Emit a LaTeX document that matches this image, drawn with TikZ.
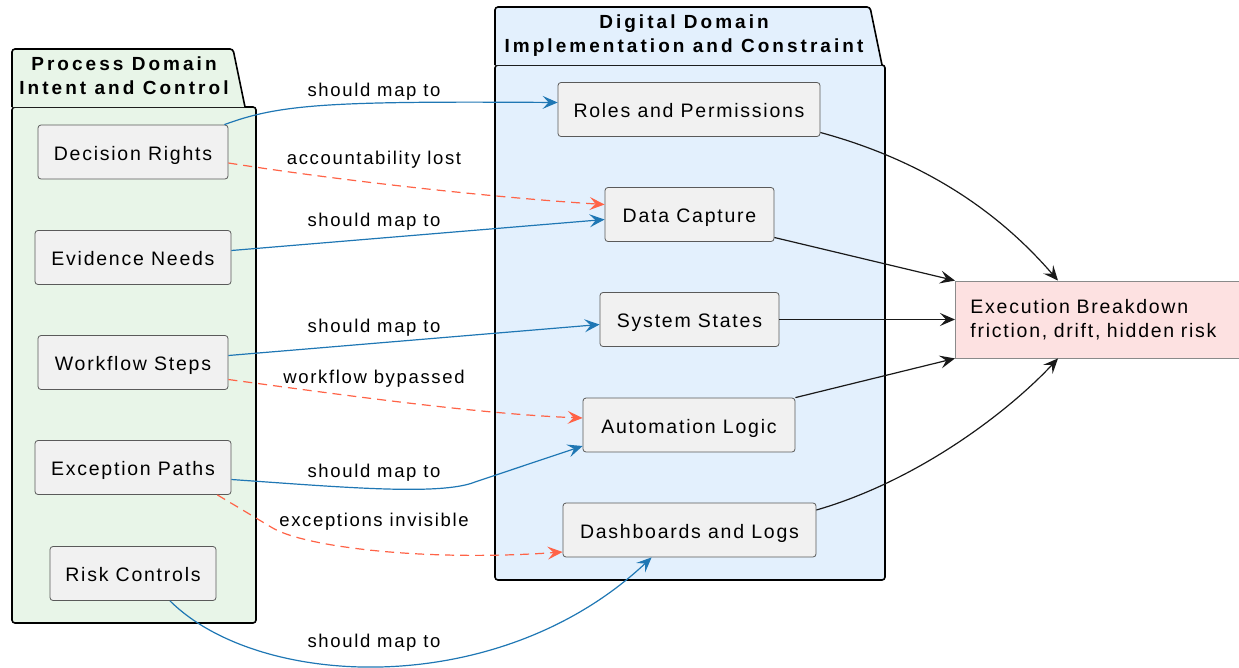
\documentclass[tikz,border=0pt]{standalone}
\usepackage{fontspec}
\setmainfont{Liberation Sans}
\newfontfamily\nodefam{Liberation Sans}[LetterSpace=9]
\newfontfamily\titlefam{Liberation Sans}[LetterSpace=16]
\usetikzlibrary{arrows.meta,calc}
\definecolor{greenfill}{HTML}{E8F5E8}
\definecolor{bluefill}{HTML}{E3F0FD}
\definecolor{boxfill}{HTML}{F1F1F1}
\definecolor{boxline}{HTML}{5A5A5A}
\definecolor{exfill}{HTML}{FDE1E1}
\definecolor{exline}{HTML}{8A8A8A}
\definecolor{mapblue}{HTML}{1F77B4}
\definecolor{lossred}{HTML}{FF6347}
\tikzset{
  frame/.style={draw=black, line width=1.6pt, rounded corners=3pt},
  titletext/.style={font=\titlefam\bfseries\fontsize{19}{24}\selectfont, align=center, inner sep=0pt},
  box/.style={draw=boxline, fill=boxfill, rounded corners=3pt, line width=0.8pt,
    font=\nodefam\fontsize{19.5}{23.5}\selectfont, inner sep=0pt, minimum height=54pt,
    text height=16pt, text depth=0pt},
  lbl/.style={font=\nodefam\fontsize{18.5}{22}\selectfont, inner sep=0pt, anchor=base},
  tip/.style={-{Stealth[length=15pt,width=13pt,inset=6pt]}},
  mapto/.style={tip, draw=mapblue, line width=1.2pt},
  lost/.style={tip, draw=lossred, line width=1.2pt, dash pattern=on 9pt off 6pt},
  feeds/.style={tip, draw=black!90, line width=1.2pt},
}
\begin{document}
\begin{tikzpicture}[x=1pt,y=-1pt]
\useasboundingbox (0,0) rectangle (1239,667);

% frames
\draw[frame, fill=greenfill] (12,107) rectangle (256,623);
\draw[frame, fill=greenfill] (12,107) -- (12,49) -- (233,49) -- (245,107);
\node[titletext] (ptitle) at (124,76) {Process Domain\\Intent and Control};

\draw[frame, fill=bluefill] (495,65) rectangle (885,580);
\draw[frame, fill=bluefill] (495,65) -- (495,7) -- (870,7) -- (882,65);
\node[titletext] (dtitle) at (684,36) {Digital Domain\\Implementation and Constraint};

% left nodes
\node[box, minimum width=190pt] (dr) at (133,152) {Decision Rights};
\node[box, minimum width=196pt] (en) at (133,257.5) {Evidence Needs};
\node[box, minimum width=190pt] (ws) at (133,362.5) {Workflow Steps};
\node[box, minimum width=196pt] (ep) at (133,467.5) {Exception Paths};
\node[box, minimum width=166pt] (rc) at (133,573.5) {Risk Controls};

% right nodes
\node[box, minimum width=262pt] (rp) at (689,109.5) {Roles and Permissions};
\node[box, minimum width=169pt] (dc) at (689.5,214.5) {Data Capture};
\node[box, minimum width=179pt] (ss) at (689.5,319.5) {System States};
\node[box, minimum width=212pt] (al) at (689,425) {Automation Logic};
\node[box, minimum width=253pt] (dl) at (689.5,530) {Dashboards and Logs};

% outcome
\node[draw=exline, fill=exfill, line width=0.8pt, anchor=west, minimum width=300pt,
  minimum height=77pt, inner xsep=15pt, inner ysep=0pt, text width=270pt, align=left,
  font=\nodefam\fontsize{19.5}{23.5}\selectfont] (ex) at (955,319.5)
  {Execution Breakdown\\friction, drift, hidden risk};

% mapping connectors
\draw[mapto] ($(dr.north east)+(-4,0)$) .. controls (280,104) and (330,101) .. ($(rp.west)+(0,-7)$);
\draw[lost] ($(dr.east)+(0,11)$) .. controls (350,182) and (500,198) .. ($(dc.west)+(0,-10)$);
\draw[mapto] ($(en.east)+(0,-7)$) -- ($(dc.west)+(0,5)$);
\draw[mapto] ($(ws.east)+(0,-7)$) -- ($(ss.west)+(0,5)$);
\draw[lost] ($(ws.east)+(0,17)$) .. controls (350,396) and (480,414) .. ($(al.west)+(0,-7)$);
\coordinate (k6) at (475,482);
\draw[mapto] ($(ep.east)+(0,12)$) .. controls (340,487) and (440,496) .. (k6) -- ($(al.west)+(0,21)$);
\coordinate (k7) at (271,527);
\draw[lost] ($(ep.south east)+(-14,0)$) -- (k7) .. controls (300,546) and (420,562) .. ($(dl.west)+(0,22)$);
\draw[mapto] ($(rc.south)+(37,0)$) .. controls (260,690) and (500,700) .. ($(dl.south west)+(89,0)$);

% edge labels
\node[lbl] (l1) at (374,96) {should map to};
\node[lbl] (l2) at (374,164) {accountability lost};
\node[lbl] (l3) at (374,226) {should map to};
\node[lbl] (l4) at (374,332) {should map to};
\node[lbl] (l5) at (374,383) {workflow bypassed};
\node[lbl] (l6) at (374,477) {should map to};
\node[lbl] (l7) at (374,526) {exceptions invisible};
\node[lbl] (l8) at (374,647) {should map to};

% outcome connectors
\draw[feeds] ($(rp.east)+(0,23)$) .. controls (940,165) and (1010,225) .. ($(ex.north west)+(103,0)$);
\draw[feeds] ($(dc.east)+(0,23)$) -- (ex.north west);
\draw[feeds] (ss.east) -- (ex.west);
\draw[feeds] ($(al.north east)+(0,0)$) -- (ex.south west);
\draw[feeds] ($(dl.east)+(0,-20)$) .. controls (920,480) and (1010,410) .. ($(ex.south west)+(103,0)$);
\end{tikzpicture}
\end{document}
